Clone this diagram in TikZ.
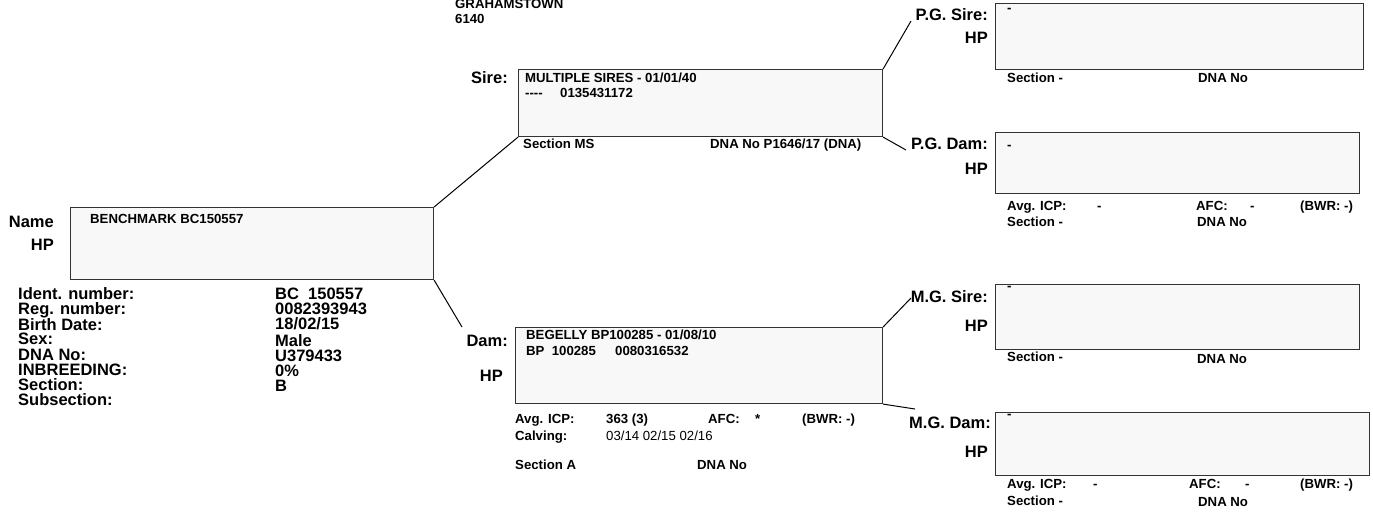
\documentclass[tikz,border=0pt]{standalone}
\usepackage{fontspec}
\setmainfont{Liberation Sans}
\definecolor{boxfill}{HTML}{F8F8F8}
\definecolor{boxline}{HTML}{333333}
\tikzset{
  pbox/.style={draw=boxline, fill=boxfill, line width=1.1pt, inner sep=0pt, anchor=north west},
  conn/.style={draw=black, line width=1pt},
  lbl/.style={font=\fontsize{16.5}{18}\selectfont\bfseries, inner sep=0pt, anchor=base east},
  tx/.style={font=\fontsize{13.2}{15}\selectfont\bfseries, inner sep=0pt, anchor=base west},
  txr/.style={font=\fontsize{13.2}{15}\selectfont, inner sep=0pt, anchor=base west},
  lst/.style={font=\fontsize{16.5}{18}\selectfont\bfseries, inner sep=0pt, anchor=base west},
}
\begin{document}
\begin{tikzpicture}[x=1pt,y=-1pt]
\useasboundingbox (0,0) rectangle (1373,512);

% boxes
\node[pbox, minimum width=363pt, minimum height=72pt] (name) at (70,207) {};
\node[pbox, minimum width=364pt, minimum height=67pt] (sire) at (518,69) {};
\node[pbox, minimum width=367pt, minimum height=76pt] (dam) at (515,327) {};
\node[pbox, minimum width=368pt, minimum height=66pt] (pgs) at (995,3) {};
\node[pbox, minimum width=364pt, minimum height=61pt] (pgd) at (995,132) {};
\node[pbox, minimum width=364pt, minimum height=65pt] (mgs) at (995,284) {};
\node[pbox, minimum width=374pt, minimum height=63pt] (mgd) at (995,412) {};

% connector ends
\coordinate (damend) at (462,327);
\coordinate (pgsend) at (911,21);
\coordinate (pgdend) at (906,150);
\coordinate (mgsend) at (911,298);
\coordinate (mgdend) at (915,409);

\draw[conn] (name.north east) -- (sire.south west);
\draw[conn] (name.south east) -- (damend);
\draw[conn] (sire.north east) -- (pgsend);
\draw[conn] (sire.south east) -- (pgdend);
\draw[conn] (dam.north east) -- (mgsend);
\draw[conn] (dam.south east) -- (mgdend);

% header
\node[tx] (t1) at (455,8) {GRAHAMSTOWN};
\node[tx] (t2) at (455,23) {6140};

% animal
\node[lbl] (nl) at (54,227) {Name};
\node[lbl] (nhp) at (54,250) {HP};
\node[tx] (nn) at (90,223) {BENCHMARK BC150557};

\node[lst] (l1) at (18,299) {Ident. number:};
\node[lst] (l2) at (18,314) {Reg. number:};
\node[lst] (l3) at (18,330) {Birth Date:};
\node[lst] (l4) at (18,344) {Sex:};
\node[lst] (l5) at (18,360) {DNA No:};
\node[lst] (l6) at (18,375) {INBREEDING:};
\node[lst] (l7) at (18,390) {Section:};
\node[lst] (l8) at (18,405) {Subsection:};
\node[lst] (v1) at (275,299) {BC\ \ 150557};
\node[lst] (v2) at (275,314) {0082393943};
\node[lst] (v3) at (275,329) {18/02/15};
\node[lst] (v4) at (275,346) {Male};
\node[lst] (v5) at (275,361) {U379433};
\node[lst] (v6) at (275,376) {0\%};
\node[lst] (v7) at (275,391) {B};

% sire
\node[lbl] (sl) at (508,83) {Sire:};
\node[tx] (s1) at (525,82) {MULTIPLE SIRES - 01/01/40};
\node[tx] (s2) at (525,97) {-{}-{}-{}-};
\node[tx] (s3) at (560,97) {0135431172};
\node[tx] (s4) at (523,148) {Section MS};
\node[tx] (s5) at (710,148) {DNA No P1646/17 (DNA)};

% dam
\node[lbl] (dl) at (508,346) {Dam:};
\node[lbl] (dhp) at (503,381) {HP};
\node[tx] (d1) at (526,339) {BEGELLY BP100285 - 01/08/10};
\node[tx] (d2) at (526,355) {BP\ \ 100285};
\node[tx] (d3) at (615,355) {0080316532};
\node[tx] (d4) at (515,423) {Avg. ICP:};
\node[tx] (d5) at (606,423) {363 (3)};
\node[tx] (d6) at (708,423) {AFC:};
\node[tx] (d7) at (755,423) {*};
\node[tx] (d8) at (802,423) {(BWR: -)};
\node[tx] (d9) at (515,440) {Calving:};
\node[txr] (d10) at (606,440) {03/14 02/15 02/16};
\node[tx] (d11) at (515,469) {Section A};
\node[tx] (d12) at (697,469) {DNA No};

% P.G. Sire
\node[lbl] (pgsl) at (988,20) {P.G. Sire:};
\node[lbl] (pgshp) at (988,43) {HP};
\node[tx] (pgs1) at (1007,12) {-};
\node[tx] (pgs2) at (1007,82) {Section -};
\node[tx] (pgs3) at (1198,82) {DNA No};

% P.G. Dam
\node[lbl] (pgdl) at (988,149) {P.G. Dam:};
\node[lbl] (pgdhp) at (988,174) {HP};
\node[tx] (pgd1) at (1007,149) {-};
\node[tx] (pgd2) at (1007,210) {Avg. ICP:};
\node[tx] (pgd3) at (1097,210) {-};
\node[tx] (pgd4) at (1196,210) {AFC:};
\node[tx] (pgd5) at (1250,210) {-};
\node[tx] (pgd6) at (1300,210) {(BWR: -)};
\node[tx] (pgd7) at (1007,226) {Section -};
\node[tx] (pgd8) at (1197,226) {DNA No};

% M.G. Sire
\node[lbl] (mgsl) at (988,302) {M.G. Sire:};
\node[lbl] (mgshp) at (988,331) {HP};
\node[tx] (mgs1) at (1007,290) {-};
\node[tx] (mgs2) at (1007,361) {Section -};
\node[tx] (mgs3) at (1197,363) {DNA No};

% M.G. Dam
\node[lbl] (mgdl) at (991,428) {M.G. Dam:};
\node[lbl] (mgdhp) at (988,457) {HP};
\node[tx] (mgd1) at (1007,418) {-};
\node[tx] (mgd2) at (1007,488) {Avg. ICP:};
\node[tx] (mgd3) at (1093,488) {-};
\node[tx] (mgd4) at (1189,488) {AFC:};
\node[tx] (mgd5) at (1245,488) {-};
\node[tx] (mgd6) at (1300,488) {(BWR: -)};
\node[tx] (mgd7) at (1007,505) {Section -};
\node[tx] (mgd8) at (1198,506) {DNA No};
\end{tikzpicture}
\end{document}
